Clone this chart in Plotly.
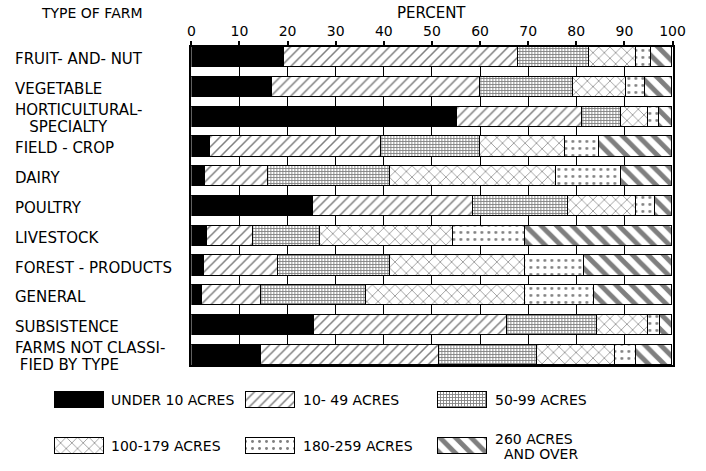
import plotly.graph_objects as go

FONT = "DejaVu Sans"
W, H = 706, 471

farm_types = [
    "FRUIT- AND- NUT",
    "VEGETABLE",
    "HORTICULTURAL-<br>&nbsp;&nbsp;&nbsp;SPECIALTY",
    "FIELD - CROP",
    "DAIRY",
    "POULTRY",
    "LIVESTOCK",
    "FOREST - PRODUCTS",
    "GENERAL",
    "SUBSISTENCE",
    "FARMS NOT CLASSI-<br>&nbsp;FIED BY TYPE",
]

size_classes = ["UNDER 10 ACRES", "10- 49 ACRES", "50-99 ACRES",
                "100-179 ACRES", "180-259 ACRES", "260 ACRES<br>&nbsp;&nbsp;AND OVER"]

under_10 = [19.4, 16.8, 55.2, 4.0, 3.0, 25.3, 3.4, 2.6, 2.3, 25.6, 14.5]
a10_49 = [48.5, 43.3, 26.1, 35.4, 13.0, 33.3, 9.4, 15.4, 12.3, 40.1, 37.0]
a50_99 = [14.9, 19.3, 8.1, 20.7, 25.4, 19.8, 14.0, 23.3, 21.8, 18.7, 20.4]
a100_179 = [9.7, 11.1, 5.5, 17.6, 34.5, 14.0, 27.6, 28.1, 33.0, 10.5, 16.3]
a180_259 = [3.2, 3.9, 2.4, 7.2, 13.5, 4.0, 15.0, 12.3, 14.4, 2.6, 4.2]
a260_over = [4.3, 5.6, 2.7, 15.1, 10.6, 3.6, 30.6, 18.3, 16.2, 2.5, 7.6]

series = [under_10, a10_49, a50_99, a100_179, a180_259, a260_over]
x_ticks = [0, 10, 20, 30, 40, 50, 60, 70, 80, 90, 100]

patterns = [
    dict(shape="", fgcolor="black", bgcolor="black"),
    dict(shape="/", fgcolor="black", bgcolor="white", size=7, solidity=0.22),
    dict(shape="+", fgcolor="black", bgcolor="white", size=3, solidity=0.5),
    dict(shape="x", fgcolor="black", bgcolor="white", size=8, solidity=0.17),
    dict(shape=".", fgcolor="black", bgcolor="white", size=7, solidity=0.14),
    dict(shape="\\", fgcolor="black", bgcolor="white", size=11, solidity=0.45),
]
colors = ["black", "white", "white", "white", "white", "white"]


def add_lines(fig, text, x, y, xref, yref, size, spacing, base_shift=0):
    """Place a (possibly multi-line) label as tightly spaced single lines."""
    lines = text.split("<br>")
    n = len(lines)
    for k, ln in enumerate(lines):
        shift = base_shift + ((n - 1) / 2 - k) * spacing
        fig.add_annotation(x=x, y=y, xref=xref, yref=yref, text=ln,
                           showarrow=False, xanchor="left", yanchor="middle",
                           yshift=shift,
                           font=dict(family=FONT, size=size, color="black"))


fig = go.Figure()
ypos = list(range(len(farm_types)))
for vals, pat, col, name in zip(series, patterns, colors, size_classes):
    fig.add_trace(go.Bar(
        y=ypos, x=vals, orientation="h", width=0.68, name=name,
        marker=dict(color=col, pattern=pat, line=dict(color="black", width=1.5)),
        showlegend=False, hoverinfo="skip", xaxis="x", yaxis="y",
    ))

# legend swatches drawn on a pixel-scaled axis below the chart
LEG_TOP = 375
sw_x0 = [52, 248, 445]
sw_row_y = [400, 446]
for i, (pat, col, name) in enumerate(zip(patterns, colors, size_classes)):
    c, r = i % 3, i // 3
    fig.add_trace(go.Bar(
        y=[sw_row_y[r]], x=[50], base=[sw_x0[c]], orientation="h", width=16,
        marker=dict(color=col, pattern=pat, line=dict(color="black", width=1.2)),
        showlegend=False, hoverinfo="skip", xaxis="x2", yaxis="y2",
    ))
    add_lines(fig, name, sw_x0[c] + 56, sw_row_y[r], "x2", "y2", 14, 15)

for i, lab in enumerate(farm_types):
    add_lines(fig, lab, 9 / W, i, "paper", "y", 15, 17, base_shift=-2)

fig.add_annotation(x=90 / W, y=1 - 13 / H, xref="paper", yref="paper",
                   text="TYPE OF FARM", showarrow=False, xanchor="center",
                   yanchor="middle",
                   font=dict(family=FONT, size=14, color="black"))
fig.add_annotation(x=438 / W, y=1 - 13 / H, xref="paper", yref="paper",
                   text="PERCENT", showarrow=False, xanchor="center",
                   yanchor="middle",
                   font=dict(family=FONT, size=15, color="black"))

fig.update_layout(
    width=W, height=H, margin=dict(l=0, r=0, t=0, b=0),
    paper_bgcolor="white", plot_bgcolor="white", barmode="stack",
    bargap=0,
    xaxis=dict(domain=[192 / W, 685 / W], range=[0, 100], side="top", anchor="y",
               tickmode="array", tickvals=x_ticks, ticktext=[str(v) for v in x_ticks],
               ticks="outside", ticklen=4, tickwidth=1.5, tickcolor="black",
               tickfont=dict(family=FONT, size=14, color="black"),
               showgrid=True, gridcolor="black", gridwidth=1.3,
               showline=True, linecolor="black", linewidth=1.5, mirror=True,
               zeroline=False, fixedrange=True),
    yaxis=dict(domain=[1 - 365 / H, 1 - 47 / H], range=[10.34, -0.34], anchor="x",
               showticklabels=False, ticks="", showgrid=False,
               showline=True, linecolor="black", linewidth=1.5, mirror=True,
               zeroline=False, fixedrange=True),
    xaxis2=dict(domain=[0, 1], range=[0, W], anchor="y2", visible=False,
                showgrid=False, fixedrange=True),
    yaxis2=dict(domain=[0, 1 - LEG_TOP / H], range=[H, LEG_TOP], anchor="x2",
                visible=False, showgrid=False, fixedrange=True),
)

fig.write_html("out.html", post_script="document.body.style.margin='0';",
               config={"displayModeBar": False})
